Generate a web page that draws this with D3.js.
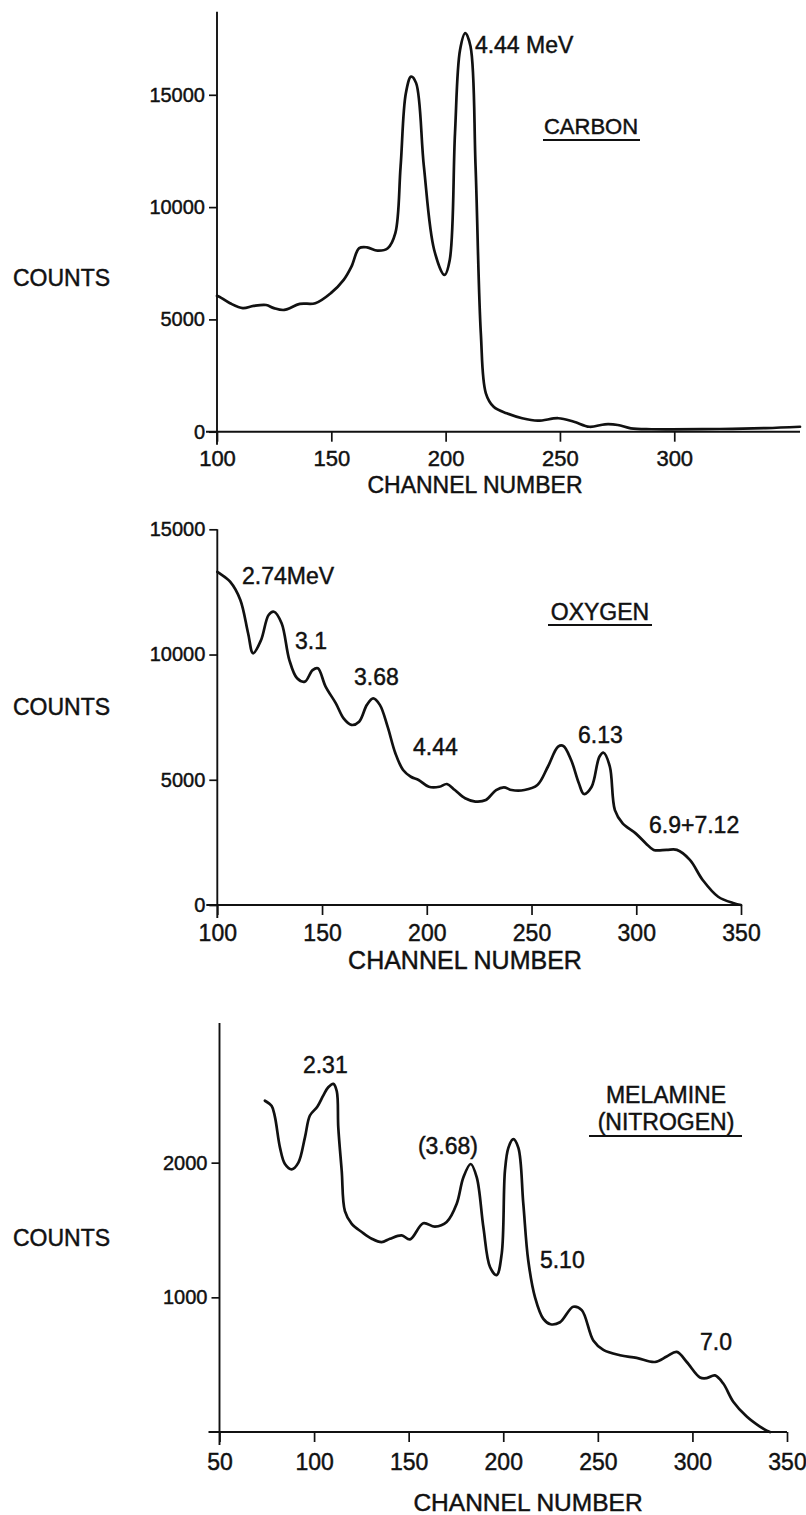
<!DOCTYPE html>
<html>
<head>
<meta charset="utf-8">
<script src="https://cdn.jsdelivr.net/npm/d3@7"></script>
<style>
  html, body { margin: 0; padding: 0; background: #fff; }
  svg { display: block; }
  text { font-family: "Liberation Sans", Arial, sans-serif; fill: #111; stroke: #111; stroke-width: 0.45px; }
</style>
</head>
<body>
<script>
// ---------- DATA ----------
// Carbon spectrum
const carbonChannel = [100,101,105.7,111.3,116,121.5,124.9,129.4,136.2,143,149.8,155.4,158.8,162.2,165.6,170.2,174.7,178,180.3,182.6,184.9,187.1,190.5,195,199.5,201.8,204.1,206.3,208.6,210.9,213.1,215.4,217.6,221,226.7,233.5,240.3,249.3,256.1,262.9,269.7,275.3,281,290,299,320,340,355];
const carbonCounts  = [6050,6010,5720,5500,5600,5640,5500,5420,5690,5720,6170,6760,7350,8170,8210,8060,8170,8840,11800,15070,15810,15520,11800,8090,6980,7650,13290,17000,17750,17150,11800,4380,1710,1110,820,600,490,600,445,220,330,300,150,110,105,120,160,220];
const carbonXTicks = [100,150,200,250,300];
const carbonYTicks = [0,5000,10000,15000];

// Oxygen spectrum
const oxygenChannel = [100,101.1,106.1,111,114.7,117.1,120.9,124.5,127,130.7,134.4,138.1,141.8,145.5,148,151.7,156.6,160.3,164,167.7,171.4,174.4,177.6,181.3,185,188.7,192.4,196.1,201,206,209.6,213.4,218.3,223.2,228.2,233.1,236.8,240.5,246.6,252.8,257.8,262.7,265.2,268.9,272.6,275,278.7,282.4,284.4,287.4,289.8,293.5,299.7,304.6,308.3,314.5,319.4,325.6,331.7,339.1,346.6,350];
const oxygenCounts  = [13300,13240,12910,12180,10850,10050,10580,11580,11710,11250,9780,9050,8920,9380,9450,8720,8050,7450,7190,7320,7990,8250,7990,7120,6060,5390,5120,4990,4720,4720,4830,4590,4260,4130,4190,4590,4700,4590,4590,4790,5520,6320,6350,5790,4860,4430,4720,5920,6080,5520,3790,3260,2860,2460,2200,2200,2200,1800,1000,330,70,0];
const oxygenXTicks = [100,150,200,250,300,350];
const oxygenYTicks = [0,5000,10000,15000];

// Melamine (nitrogen) spectrum
const melamineChannel = [74,77.6,79.3,82,84.6,88.2,91.7,95.2,97.8,101.7,104.9,107.5,110.2,112,112.8,114.6,116.3,119.9,125.2,130.5,135.7,140.1,146.3,150.7,157.7,163.9,170.1,175.4,178.9,182.8,186,189.5,193,196.5,199.2,200.9,202.7,205.3,208,210.6,213.2,216.8,221.2,225,230,237,241.5,247.6,252.9,261.7,270.5,280.2,286.4,291.7,297,304,307.5,311.9,316.3,321.6,328.7,335.7,339.3,341];
const melamineCounts  = [2460,2420,2340,2110,1990,1950,2000,2190,2350,2415,2500,2560,2585,2530,2260,1940,1640,1545,1485,1435,1410,1435,1460,1430,1550,1525,1560,1695,1890,1990,1890,1520,1225,1165,1325,1940,2110,2175,2110,1695,1275,1000,840,800,815,930,905,680,610,570,550,520,560,595,520,405,400,420,360,225,115,40,10,0];
const melamineXTicks = [50,100,150,200,250,300,350];
const melamineYTicks = [1000,2000];

// Peak annotations (text, channel, counts)
const carbonPeakLabels   = ["4.44 MeV"];
const carbonPeakChannel  = [212.8];
const carbonPeakCounts   = [17200];
const oxygenPeakLabels   = ["2.74MeV","3.1","3.68","4.44","6.13","6.9+7.12"];
const oxygenPeakChannel  = [111.8,137.1,165.3,193.4,272.2,306.1];
const oxygenPeakCounts   = [13135,10540,9100,6310,6790,3190];
const melaminePeakLabels = ["2.31","(3.68)","5.10","7.0"];
const melaminePeakChannel= [94.1,154.9,219.4,304];
const melaminePeakCounts = [2725,2124,1277,668];

// ---------- DRAWING ----------
const svg = d3.select("body").append("svg").attr("width", 806).attr("height", 1515);

const panels = [
  {
    ch: carbonChannel, ct: carbonCounts, xTicks: carbonXTicks, yTicks: carbonYTicks,
    xDomain: [100, 355], xRange: [217, 800], yDomain: [0, 18700], yRange: [431.7, 11.7],
    labels: carbonPeakLabels, lch: carbonPeakChannel, lct: carbonPeakCounts,
    xLabelOff: 27, xFont: 22, yFont: 20,
    xTitle: [475, 485, 23], countsY: 278,
    title: [["CARBON"]], titleX: 591, titleY: [126.5], titleFont: 22, underline: [543, 640, 140],
    yLabelZero: true
  },
  {
    ch: oxygenChannel, ct: oxygenCounts, xTicks: oxygenXTicks, yTicks: oxygenYTicks,
    xDomain: [100, 350], xRange: [217.3, 741], yDomain: [0, 15000], yRange: [905, 529.3],
    labels: oxygenPeakLabels, lch: oxygenPeakChannel, lct: oxygenPeakCounts,
    xLabelOff: 28, xFont: 23, yFont: 20,
    xTitle: [465, 960, 25], countsY: 707,
    title: [["OXYGEN"]], titleX: 600, titleY: [612], titleFont: 23, underline: [548, 652, 625],
    yLabelZero: true
  },
  {
    ch: melamineChannel, ct: melamineCounts, xTicks: melamineXTicks, yTicks: melamineYTicks,
    xDomain: [50, 350], xRange: [219.5, 787], yDomain: [0, 3037], yRange: [1432, 1023],
    labels: melaminePeakLabels, lch: melaminePeakChannel, lct: melaminePeakCounts,
    xLabelOff: 30, xFont: 23, yFont: 20,
    xTitle: [528, 1502, 24.5], countsY: 1238,
    title: [["MELAMINE"], ["(NITROGEN)"]], titleX: 666, titleY: [1095, 1122], titleFont: 23, underline: [589, 742, 1136],
    yLabelZero: false
  }
];

panels.forEach(p => {
  const g = svg.append("g");
  const x = d3.scaleLinear().domain(p.xDomain).range(p.xRange);
  const y = d3.scaleLinear().domain(p.yDomain).range(p.yRange);
  const x0 = p.xRange[0], y0 = p.yRange[0];

  // axis lines (baseline extends left of the y axis, y axis crosses below baseline)
  g.append("line").attr("x1", x0 - 11).attr("x2", p.xRange[1]).attr("y1", y0).attr("y2", y0)
    .attr("stroke", "#111").attr("stroke-width", 1.9);
  const yTop = p.yLabelZero && p.yDomain[1] === 15000 ? y(15000) : p.yRange[1];
  g.append("line").attr("x1", x0).attr("x2", x0).attr("y1", yTop).attr("y2", y0 + 13)
    .attr("stroke", "#111").attr("stroke-width", 1.9);

  // x axis
  const xa = g.append("g").attr("transform", `translate(0,${y0})`)
    .call(d3.axisBottom(x).tickValues(p.xTicks).tickSize(10).tickSizeOuter(0).tickFormat(d3.format("d")));
  xa.select(".domain").remove();
  xa.selectAll(".tick line").attr("stroke", "#111").attr("stroke-width", 1.7);
  xa.selectAll(".tick text").attr("y", p.xLabelOff).attr("dy", "0.35em")
    .style("font-size", p.xFont + "px").attr("fill", "#111");

  // y axis
  const ya = g.append("g").attr("transform", `translate(${x0},0)`)
    .call(d3.axisLeft(y).tickValues(p.yTicks).tickSize(8).tickSizeOuter(0).tickPadding(4).tickFormat(d3.format("d")));
  ya.select(".domain").remove();
  ya.selectAll(".tick line").attr("stroke", "#111").attr("stroke-width", 1.7);
  ya.selectAll(".tick text").style("font-size", p.yFont + "px").attr("fill", "#111");

  // spectrum curve
  const pts = p.ch.map((c, i) => [c, p.ct[i]]);
  const line = d3.line().x(d => x(d[0])).y(d => y(d[1])).curve(d3.curveCatmullRom.alpha(0.5));
  g.append("path").datum(pts).attr("d", line)
    .attr("fill", "none").attr("stroke", "#111").attr("stroke-width", 2.7)
    .attr("stroke-linejoin", "round").attr("stroke-linecap", "round");

  // peak labels
  g.selectAll("text.peak").data(p.labels).join("text").attr("class", "peak")
    .attr("x", (d, i) => x(p.lch[i])).attr("y", (d, i) => y(p.lct[i]))
    .attr("dy", "0.35em").style("font-size", "23px").text(d => d);

  // axis titles
  g.append("text").attr("x", p.xTitle[0]).attr("y", p.xTitle[1]).attr("dy", "0.35em")
    .attr("text-anchor", "middle").style("font-size", p.xTitle[2] + "px").text("CHANNEL NUMBER");
  g.append("text").attr("x", 13).attr("y", p.countsY).attr("dy", "0.35em")
    .style("font-size", "23px").text("COUNTS");

  // element title with underline
  p.title.forEach((t, i) => {
    g.append("text").attr("x", p.titleX).attr("y", p.titleY[i]).attr("dy", "0.35em")
      .attr("text-anchor", "middle").style("font-size", p.titleFont + "px").text(t[0]);
  });
  g.append("line").attr("x1", p.underline[0]).attr("x2", p.underline[1])
    .attr("y1", p.underline[2]).attr("y2", p.underline[2])
    .attr("stroke", "#111").attr("stroke-width", 2.2);
});
</script>
</body>
</html>
